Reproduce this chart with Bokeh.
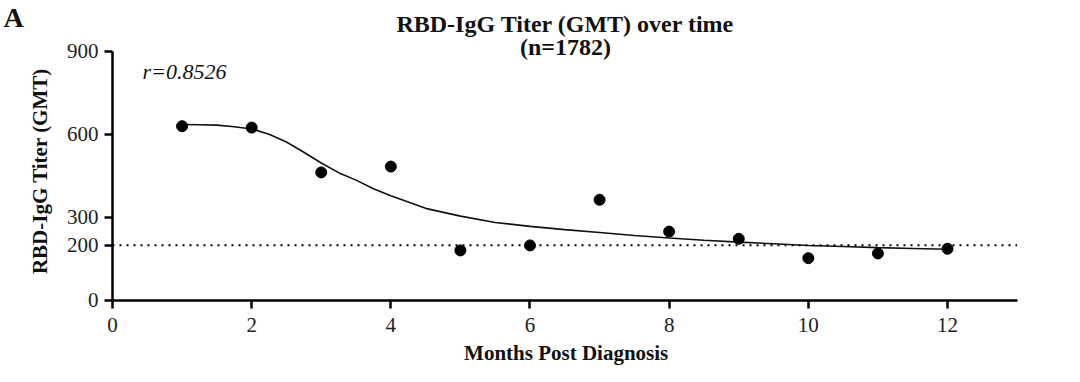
from bokeh.plotting import figure
from bokeh.embed import file_html
from bokeh.resources import INLINE
from bokeh.models import FixedTicker, Label
import math

# Data
months = [1, 2, 3, 4, 5, 6, 7, 8, 9, 10, 11, 12]
gmt = [630, 625, 463, 484, 181, 199, 364, 249, 223, 153, 170, 187]

# Fitted curve
fit_x = [1, 1.25, 1.5, 1.75, 2, 2.25, 2.5, 2.75, 3, 3.25, 3.5, 3.75, 4, 4.5, 5, 5.5,
         6, 6.5, 7, 7.5, 8, 8.5, 9, 9.5, 10, 10.5, 11, 11.5, 12]
fit_y = [636, 635, 634, 628, 620, 601, 573, 536, 497, 462, 435, 404, 379, 333, 305, 282,
         268, 256, 246, 235, 226, 218, 211, 205, 199, 195, 191, 188, 185]

threshold = 200
x_ticks = [0, 2, 4, 6, 8, 10, 12]
y_ticks = [0, 200, 300, 600, 900]
x_axis_end = 13
y_axis_end = 900

SERIF = "Liberation Serif"

# The frame covers the whole canvas so that the titles are not clipped;
# the axes sit at x=0 / y=0 through fixed_location and bounds.
p = figure(width=1064, height=366,
           x_range=(-1.6096, 13.6817), y_range=(-238.6, 1084.3),
           output_backend="svg", toolbar_location=None,
           min_border_left=0, min_border_right=0, min_border_top=0, min_border_bottom=0)
p.outline_line_color = None
p.grid.visible = False
p.background_fill_color = "white"
p.border_fill_color = "white"

for ax in (p.xaxis[0], p.yaxis[0]):
    ax.fixed_location = 0
    ax.axis_line_width = 2.5
    ax.axis_line_color = "black"
    ax.major_tick_line_width = 2.5
    ax.major_tick_line_color = "black"
    ax.major_tick_out = 8
    ax.major_tick_in = 0
    ax.minor_tick_line_color = None
    ax.major_label_text_font = SERIF
    ax.major_label_text_font_size = "21px"
    ax.major_label_text_color = "#222222"

p.xaxis.bounds = (0, x_axis_end)
p.yaxis.bounds = (0, y_axis_end)
p.xaxis.ticker = FixedTicker(ticks=x_ticks)
p.yaxis.ticker = FixedTicker(ticks=y_ticks)
p.xaxis.major_label_standoff = 10
p.yaxis.major_label_standoff = 6

# dotted threshold line across the axis extent
p.segment(x0=[0], y0=[threshold], x1=[x_axis_end], y1=[threshold],
          line_color="black", line_width=2, line_dash="2 5")

p.line(fit_x, fit_y, line_color="#111111", line_width=1.6)
p.scatter(months, gmt, size=11, color="black")

def lab(x, y, text, size, style="bold", align="center", baseline="middle", angle=0.0):
    p.add_layout(Label(x=x, y=y, text=text, text_font=SERIF, text_font_style=style,
                       text_font_size=size, text_color="#111111", text_align=align,
                       text_baseline=baseline, angle=angle))

lab(0.431, 826, "r=0.8526", "22px", style="italic", align="left")
lab(6.51, 997.6, "RBD-IgG Titer (GMT) over time", "24px")
lab(6.51, 914.5, "(n=1782)", "24px")
lab(-1.566, 1024.6, "A", "28px", align="left")
lab(6.52, -190, "Months Post Diagnosis", "21px")
lab(-1.035, 468, "RBD-IgG Titer (GMT)", "21px", angle=math.pi / 2)

open("out.html", "w").write(file_html(p, INLINE))
